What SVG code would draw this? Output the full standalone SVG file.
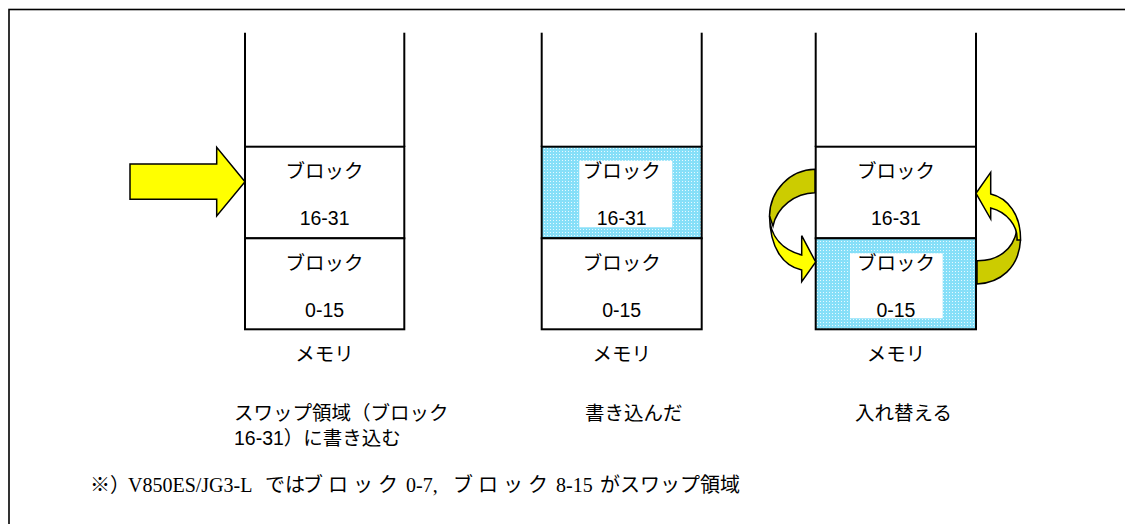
<svg xmlns="http://www.w3.org/2000/svg" width="1125" height="524" viewBox="0 0 1125 524">
<defs>
<pattern id="dots" width="3" height="3" patternUnits="userSpaceOnUse">
<rect width="3" height="3" fill="#86DFF8"/>
<rect x="1" y="1" width="1" height="1" fill="#E6F9FF"/>
</pattern>
</defs>
<style>
.box{fill:#fff;stroke:#000;stroke-width:2}
.cy{fill:url(#dots);stroke:#000;stroke-width:2}
.wl{stroke:#000;stroke-width:2}
.t{font-family:"Liberation Sans","Noto Sans CJK JP",sans-serif;font-size:19.5px;fill:#000}
.c{text-anchor:middle}
.fn{font-family:"Liberation Serif","Noto Sans CJK JP",serif;font-size:20px;fill:#000}
.yel{fill:#FFFF00;stroke:#000;stroke-width:1.5;stroke-linejoin:miter}
.dk{fill:#CCCC00;stroke:#000;stroke-width:1.5}
</style>
<rect x="9" y="9.5" width="1130" height="530" fill="#fff" stroke="#000" stroke-width="1.6"/>

<g id="memory1">
<line class="wl" x1="245" y1="32.7" x2="245" y2="147"/>
<line class="wl" x1="404.3" y1="32.7" x2="404.3" y2="147"/>
<rect class="box" x="245" y="146.7" width="159.3" height="91.6"/>
<rect class="box" x="245" y="238.3" width="159.3" height="91"/>
<text class="t c" x="324.6" y="178">ブロック</text>
<text class="t c" x="324.6" y="225">16-31</text>
<text class="t c" x="324.6" y="270">ブロック</text>
<text class="t c" x="324.6" y="316.5">0-15</text>
<text class="t c" x="324.6" y="360.5">メモリ</text>
</g>

<g id="memory2">
<line class="wl" x1="541.7" y1="32.7" x2="541.7" y2="147"/>
<line class="wl" x1="701.7" y1="32.7" x2="701.7" y2="147"/>
<rect class="cy" x="541.7" y="146.7" width="160" height="91.6"/>
<rect x="579.3" y="160.7" width="93" height="66.6" fill="#fff"/>
<rect class="box" x="541.7" y="238.3" width="160" height="91"/>
<text class="t c" x="621.7" y="178">ブロック</text>
<text class="t c" x="621.7" y="225">16-31</text>
<text class="t c" x="621.7" y="270">ブロック</text>
<text class="t c" x="621.7" y="316.5">0-15</text>
<text class="t c" x="621.7" y="360.5">メモリ</text>
</g>

<g id="memory3">
<line class="wl" x1="815.7" y1="32.7" x2="815.7" y2="147"/>
<line class="wl" x1="976" y1="32.7" x2="976" y2="147"/>
<rect class="box" x="815.7" y="146.7" width="160.3" height="91.6"/>
<rect class="cy" x="815.7" y="238.3" width="160.3" height="91"/>
<rect x="850" y="253.3" width="92.7" height="65" fill="#fff"/>
<text class="t c" x="895.9" y="178">ブロック</text>
<text class="t c" x="895.9" y="225">16-31</text>
<text class="t c" x="895.9" y="270">ブロック</text>
<text class="t c" x="895.9" y="316.5">0-15</text>
<text class="t c" x="895.9" y="360.5">メモリ</text>
</g>

<g id="connectors">
<polygon id="write-arrow" class="yel" points="130,164 216.7,164 216.7,147.3 245,181.7 216.7,216 216.7,199.3 130,199.3"/>
<g id="swap-left">
<path class="dk" d="M815,169.3 C790,170 770,190 769.5,216 L773,226 C777,207 795,193 815,192.7 Z"/>
<path class="yel" d="M769.5,216 C770,238 784,250 801.7,255 L801.7,235.7 L815.7,262 L801.7,281.7 L801.7,270 C783,266 770,248 769.5,216 Z"/>
</g>
<g id="swap-right">
<path class="dk" d="M977,284 C1000,283 1019,268 1020.5,240 L1017,230 C1013,250 998,261 977,260.7 Z"/>
<path class="yel" d="M1020.5,240 C1021,215 1008,198 990.7,194 L990.7,172.3 L976,193.3 L990.7,219 L990.7,208 C1007,212 1018,226 1017,240 Z"/>
</g>
</g>

<g id="captions">
<text class="t" x="234" y="420">スワップ領域（ブロック</text>
<text class="t" x="234" y="445">16-31）に書き込む</text>
<text class="t" x="585" y="420">書き込んだ</text>
<text class="t" x="855" y="420">入れ替える</text>
</g>

<g id="footnote">
<text class="fn" y="492"><tspan x="90">※）</tspan><tspan x="128">V850ES/JG3-L</tspan><tspan x="265">では</tspan><tspan x="303" letter-spacing="5">ブロック</tspan><tspan x="406">0-7,</tspan><tspan x="453" letter-spacing="5">ブロック</tspan><tspan x="556">8-15</tspan><tspan x="600">がスワップ領域</tspan></text>
</g>
</svg>
